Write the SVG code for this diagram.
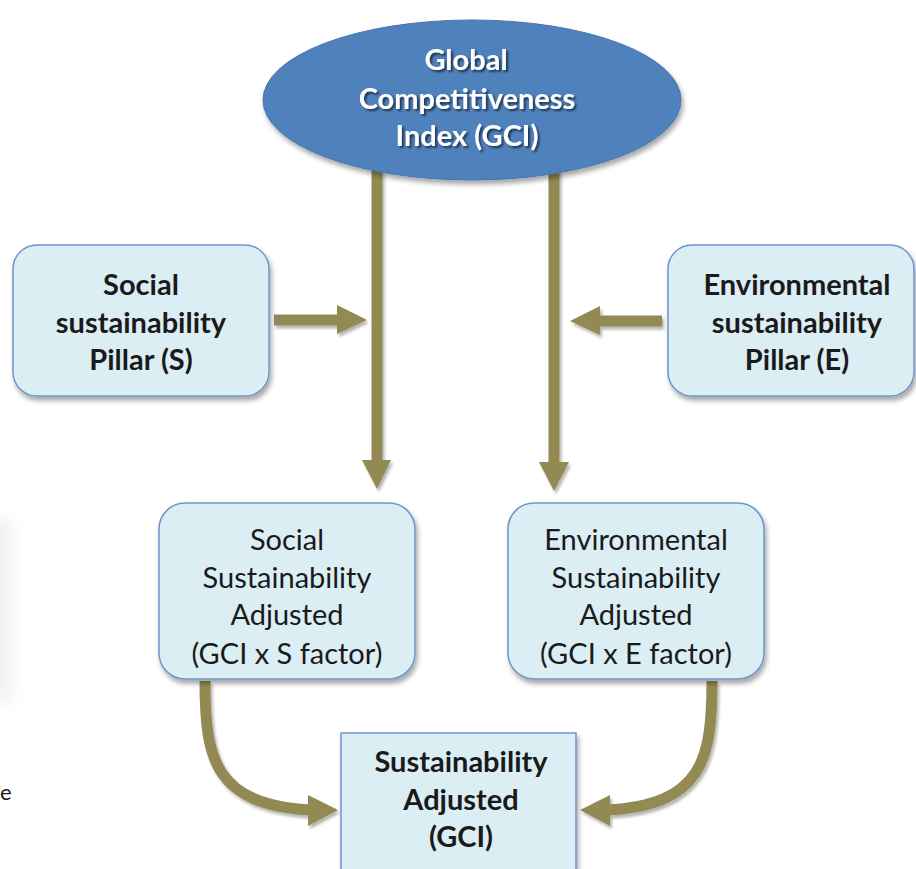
<svg xmlns="http://www.w3.org/2000/svg" width="916" height="869" viewBox="0 0 916 869">
<defs>
<filter id="sh" x="-10%" y="-10%" width="125%" height="130%">
<feGaussianBlur in="SourceAlpha" stdDeviation="2.5"/>
<feOffset dx="2" dy="4" result="b"/>
<feComponentTransfer><feFuncA type="linear" slope="0.35"/></feComponentTransfer>
<feMerge><feMergeNode/><feMergeNode in="SourceGraphic"/></feMerge>
</filter>
<filter id="ash" x="-20%" y="-20%" width="140%" height="140%">
<feGaussianBlur in="SourceAlpha" stdDeviation="1.5"/>
<feOffset dx="1.5" dy="2.5" result="b"/>
<feComponentTransfer><feFuncA type="linear" slope="0.3"/></feComponentTransfer>
<feMerge><feMergeNode/><feMergeNode in="SourceGraphic"/></feMerge>
</filter>
<filter id="tsh" x="-10%" y="-30%" width="120%" height="160%">
<feGaussianBlur in="SourceAlpha" stdDeviation="1"/>
<feOffset dx="1.5" dy="1.5" result="b"/>
<feComponentTransfer><feFuncA type="linear" slope="0.6"/></feComponentTransfer>
<feMerge><feMergeNode/><feMergeNode in="SourceGraphic"/></feMerge>
</filter>
<filter id="soft" x="-100%" y="-20%" width="300%" height="140%">
<feGaussianBlur stdDeviation="8"/>
</filter>
</defs>
<style>
.box{fill:#DAEEF3;stroke:#6E96CB;stroke-width:1.5}
.t{font-family:Lato,"Liberation Sans",sans-serif;font-size:29px;fill:#1a1a1a;text-anchor:middle}
.b{font-weight:bold}
.w{fill:#ffffff;font-weight:bold}
.ln{fill:none;stroke:#938953;stroke-width:11}
.hd{fill:#938953}
</style>
<rect width="916" height="869" fill="#ffffff"/>
<rect x="-20" y="520" width="32" height="180" fill="#e6e6e6" opacity="0.6" filter="url(#soft)"/>
<text class="t" x="0" y="800" style="text-anchor:start;font-size:22px">e</text>

<g id="connectors" filter="url(#ash)">
<line class="ln" x1="377" y1="170" x2="377" y2="462"/>
<polygon class="hd" points="362,460 391,460 377,489"/>
<line class="ln" x1="554" y1="170" x2="554" y2="464"/>
<polygon class="hd" points="539,462 569,462 554,491"/>
<line class="ln" x1="274" y1="320" x2="340" y2="320"/>
<polygon class="hd" points="337,305 367,320 337,334"/>
<line class="ln" x1="662" y1="321" x2="598" y2="321"/>
<polygon class="hd" points="600,306 570,321 600,335"/>
<path class="ln" d="M205,681 C205,760 215,805 312,810"/>
<polygon class="hd" points="308,795 338,810 308,826"/>
<path class="ln" d="M712,681 C712,760 702,805 607,810"/>
<polygon class="hd" points="610,795 580,810 610,826"/>
</g>

<g id="gci">
<ellipse cx="472" cy="100" rx="209" ry="80" fill="#4F81BD" stroke="#4675AD" stroke-width="1" filter="url(#sh)"/>
<g filter="url(#tsh)">
<text class="t w" x="466" y="70">Global</text>
<text class="t w" x="467" y="109">Competitiveness</text>
<text class="t w" x="467" y="146">Index (GCI)</text>
</g>
</g>

<g id="social-pillar">
<rect class="box" x="13" y="245" width="256" height="151" rx="24" filter="url(#sh)"/>
<text class="t b" x="141" y="295">Social</text>
<text class="t b" x="141" y="333">sustainability</text>
<text class="t b" x="141" y="370">Pillar (S)</text>
</g>

<g id="env-pillar">
<rect class="box" x="668" y="245" width="246" height="151" rx="24" filter="url(#sh)"/>
<text class="t b" x="797" y="295">Environmental</text>
<text class="t b" x="797" y="333">sustainability</text>
<text class="t b" x="797" y="370">Pillar (E)</text>
</g>

<g id="social-adjusted">
<rect class="box" x="159" y="503" width="256" height="176" rx="26" filter="url(#sh)"/>
<text class="t" x="287" y="550">Social</text>
<text class="t" x="287" y="588">Sustainability</text>
<text class="t" x="287" y="625">Adjusted</text>
<text class="t" x="287" y="664">(GCI x S factor)</text>
</g>

<g id="env-adjusted">
<rect class="box" x="508" y="503" width="256" height="176" rx="26" filter="url(#sh)"/>
<text class="t" x="636" y="550">Environmental</text>
<text class="t" x="636" y="588">Sustainability</text>
<text class="t" x="636" y="625">Adjusted</text>
<text class="t" x="636" y="664">(GCI x E factor)</text>
</g>

<g id="sustainability-adjusted">
<rect class="box" x="341" y="733" width="235" height="150" filter="url(#sh)"/>
<text class="t b" x="461" y="772">Sustainability</text>
<text class="t b" x="461" y="810">Adjusted</text>
<text class="t b" x="461" y="847">(GCI)</text>
</g>
</svg>
